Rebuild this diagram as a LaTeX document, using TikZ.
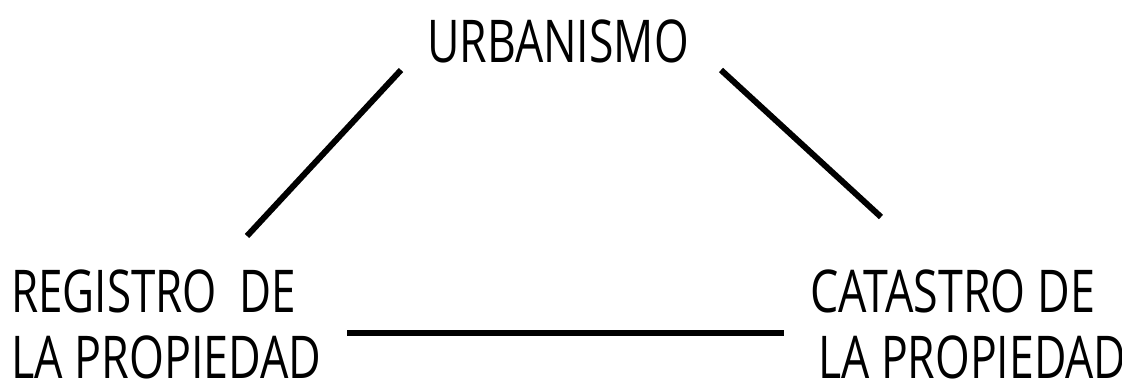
\documentclass[tikz,border=0pt]{standalone}
\usepackage{fontspec}
\setmainfont{Open Sans}
\begin{document}
\begin{tikzpicture}[x=1pt,y=-1pt,
  lbl/.style={inner sep=0pt,anchor=base west,font=\fontsize{59}{66}\selectfont},
  link/.style={line width=6pt,line cap=butt,black}]
\useasboundingbox (0,0) rectangle (1122,381);
\node[lbl] (urb) at (427,62) {\scalebox{0.755}[1]{URBANISMO}};
\node[lbl] (reg1) at (11,312) {\scalebox{0.745}[1]{REGISTRO\ \ DE}};
\node[lbl] (reg2) at (11,378) {\scalebox{0.76}[1]{LA PROPIEDAD}};
\node[lbl] (cat1) at (810,312) {\scalebox{0.76}[1]{CATASTRO DE}};
\node[lbl] (cat2) at (818,378) {\scalebox{0.755}[1]{LA PROPIEDAD}};
\coordinate (ua) at (401,70);
\coordinate (ra) at (247,236);
\coordinate (ub) at (721,70);
\coordinate (cb) at (881,217);
\coordinate (rc) at (347,333);
\coordinate (cr) at (784,333);
\draw[link] (ua) -- (ra);
\draw[link] (ub) -- (cb);
\draw[link] (rc) -- (cr);
\end{tikzpicture}
\end{document}
